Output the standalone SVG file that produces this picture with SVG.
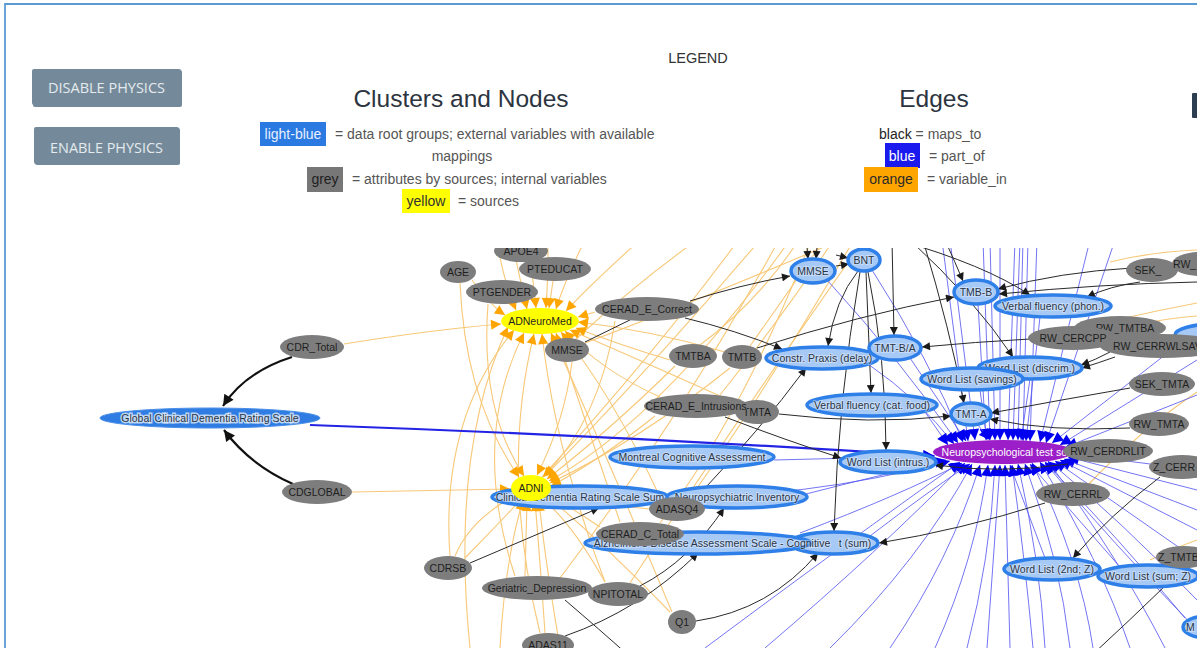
<svg xmlns="http://www.w3.org/2000/svg" width="1197" height="648" viewBox="0 0 1197 648">
<defs>
<style>
.btn rect{fill:#748a9a}
.btn text{font-family:"Open Sans","Liberation Sans",sans-serif;font-size:15px;fill:#e4eaee;text-anchor:middle}
.h{font-family:"Liberation Sans",Arial,sans-serif;font-size:24.5px;fill:#2c3440;text-anchor:middle}
.lg{font-family:"Liberation Sans",Arial,sans-serif;font-size:14px;fill:#555}
.mid{text-anchor:middle}
.ek{fill:none;stroke:#2a2a2a;stroke-width:1;marker-end:url(#ak)}
.ekn{fill:none;stroke:#2a2a2a;stroke-width:1}
.ek2{fill:none;stroke:#111;stroke-width:2.2;marker-end:url(#ak2)}
.eb{fill:none;stroke:#5c5cf2;stroke-width:1;stroke-opacity:.85;marker-end:url(#ab)}
.eb2{fill:none;stroke:#2323e6;stroke-width:2.2;marker-end:url(#ab)}
.eo{fill:none;stroke:#f8c877;stroke-width:1.1;marker-end:url(#ao)}
.eon{fill:none;stroke:#f8c877;stroke-width:1.1}
.nt{font-family:"Liberation Sans",Arial,sans-serif;font-size:10.5px;text-anchor:middle;fill:#1f1f1f}
.g ellipse{fill:#7d7d7d}
.lb ellipse{fill:#a7c9f6;stroke:#2e7fe8;stroke-width:3.5}
.lb text{fill:#2a3545;stroke:#fff;stroke-width:2;stroke-opacity:.35;paint-order:stroke}
.y ellipse{fill:#ffff00}
</style>
<marker id="ak" viewBox="0 0 10 10" refX="10" refY="5" markerWidth="10" markerHeight="8" markerUnits="userSpaceOnUse" orient="auto"><path d="M0,0 L10,5 L0,10 z" fill="#1a1a1a"/></marker>
<marker id="ak2" viewBox="0 0 10 10" refX="10" refY="5" markerWidth="13" markerHeight="11" markerUnits="userSpaceOnUse" orient="auto"><path d="M0,0 L10,5 L0,10 z" fill="#111"/></marker>
<marker id="ab" viewBox="0 0 10 10" refX="10" refY="5" markerWidth="13" markerHeight="11" markerUnits="userSpaceOnUse" orient="auto"><path d="M0,0 L10,5 L0,10 z" fill="#0000f0"/></marker>
<marker id="ao" viewBox="0 0 10 10" refX="10" refY="5" markerWidth="12" markerHeight="10" markerUnits="userSpaceOnUse" orient="auto"><path d="M0,0 L10,5 L0,10 z" fill="#ffa500"/></marker>
<clipPath id="gc"><rect x="5" y="248" width="1192" height="400"/></clipPath>
</defs>
<rect width="1197" height="648" fill="#ffffff"/>
<path d="M5,648 L5,4 L1197,4" fill="none" stroke="#5b9bd5" stroke-width="1.8"/>

<g id="btn-disable" class="btn"><rect x="33" y="70" width="149" height="37" rx="2" fill="#d8dde0"/><rect x="32" y="69" width="149" height="36" rx="2"/><text x="106.5" y="93" textLength="117" lengthAdjust="spacingAndGlyphs">DISABLE PHYSICS</text></g>
<g id="btn-enable" class="btn"><rect x="35" y="128" width="145" height="37" rx="2" fill="#d8dde0"/><rect x="34" y="127" width="145" height="37" rx="2"/><text x="106.5" y="152.5" textLength="113" lengthAdjust="spacingAndGlyphs">ENABLE PHYSICS</text></g>

<g id="legend">
<text x="698" y="63" class="lg mid" style="fill:#333;font-size:14.5px">LEGEND</text>
<text x="461" y="107" class="h">Clusters and Nodes</text>
<text x="934" y="107" class="h">Edges</text>
<rect x="260" y="122" width="66" height="24" fill="#2a7ae2"/>
<text x="293" y="139" class="lg mid" style="fill:#e8f0ff">light-blue</text>
<text x="335" y="139" class="lg">= data root groups; external variables with available</text>
<text x="462" y="161" class="lg mid">mappings</text>
<rect x="307" y="167" width="36" height="25" fill="#777"/>
<text x="325" y="184" class="lg mid" style="fill:#1e1e1e">grey</text>
<text x="352" y="184" class="lg">= attributes by sources; internal variables</text>
<rect x="402" y="189" width="48" height="24" fill="#ffff00"/>
<text x="426" y="206" class="lg mid" style="fill:#333">yellow</text>
<text x="458" y="206" class="lg">= sources</text>
<text x="879" y="139" class="lg"><tspan fill="#222">black</tspan> = maps_to</text>
<rect x="885" y="143" width="35" height="25" fill="#1a1aee"/>
<text x="902" y="161" class="lg mid" style="fill:#fff">blue</text>
<text x="929" y="161" class="lg">= part_of</text>
<rect x="864" y="167" width="54" height="25" fill="#ffa500"/>
<text x="891" y="184" class="lg mid" style="fill:#2a2a2a">orange</text>
<text x="927" y="184" class="lg">= variable_in</text>
<rect x="1192" y="93" width="6" height="25" rx="1" fill="#2c3e50"/>
</g>

<g clip-path="url(#gc)">
<g id="edges">
<g id="edges-orange">
<path class="eon" d="M585,343 Q700,300 845,238"/>
<path class="eon" d="M700,345 Q760,300 800,238"/>
<path class="eon" d="M750,346 Q790,290 825,238"/>
<path class="eon" d="M720,395 Q780,320 835,238"/>
<path class="eon" d="M690,498 Q760,400 855,238"/>
<path class="eon" d="M660,523 Q740,420 812,238"/>
<path class="eon" d="M560,578 Q680,420 780,238"/>
<path class="eon" d="M465,558 Q620,400 740,238"/>
<path class="eon" d="M630,583 Q730,430 865,238"/>
<path class="eon" d="M575,340 Q640,280 700,238"/>
<path class="eon" d="M1110,262 Q1150,252 1197,250"/>
<path class="eon" d="M1125,318 Q1160,310 1197,303"/>
<path class="eon" d="M1140,324 Q1170,318 1197,316"/>
<path class="eon" d="M1085,488 Q1140,430 1197,392"/>
<path class="eon" d="M1150,560 Q1175,548 1197,540"/>
<path class="eo" d="M497,240 Q503,280 516,310"/>
<path class="eo" d="M512,240 Q520,280 527,309"/>
<path class="eo" d="M528,240 Q533,280 536,308"/>
<path class="eo" d="M548,240 Q548,280 546,308"/>
<path class="eo" d="M585,240 Q565,280 556,309"/>
<path class="eo" d="M640,240 Q590,285 566,311"/>
<path class="eo" d="M472,280 Q490,305 505,315"/>
<path class="eo" d="M553,281 L549,308"/>
<path class="eo" d="M595,312 L578,317"/>
<path class="eo" d="M344,344 Q430,330 501,324"/>
<path class="eo" d="M450,556 Q440,420 514,330"/>
<path class="eo" d="M515,576 Q470,440 524,333"/>
<path class="eo" d="M540,633 Q500,470 534,334"/>
<path class="eo" d="M605,582 Q555,450 542,334"/>
<path class="eo" d="M672,612 Q600,440 551,333"/>
<path class="eo" d="M620,522 Q585,420 556,333"/>
<path class="eo" d="M660,497 Q610,390 561,332"/>
<path class="eo" d="M670,360 Q620,345 576,328"/>
<path class="eo" d="M660,397 Q600,370 565,331"/>
<path class="eo" d="M725,352 Q650,330 578,322"/>
<path class="eo" d="M470,648 Q450,450 508,327"/>
<path class="eo" d="M740,405 Q640,360 570,330"/>
<path class="eo" d="M352,492 L510,489"/>
<path class="eo" d="M460,283 Q465,400 519,477"/>
<path class="eo" d="M488,304 Q480,410 524,476"/>
<path class="eo" d="M572,362 Q565,420 537,475"/>
<path class="eo" d="M615,321 Q600,420 543,477"/>
<path class="eo" d="M675,366 Q610,430 547,479"/>
<path class="eo" d="M730,368 Q640,440 550,483"/>
<path class="eo" d="M655,416 Q600,460 551,486"/>
<path class="eo" d="M760,240 Q640,380 545,476"/>
<path class="eo" d="M790,240 Q660,420 549,481"/>
<path class="eo" d="M455,556 Q470,520 514,496"/>
<path class="eo" d="M525,576 L527,501"/>
<path class="eo" d="M545,633 Q540,560 535,501"/>
<path class="eo" d="M605,582 Q570,520 542,499"/>
<path class="eo" d="M670,612 Q600,540 547,496"/>
<path class="eo" d="M500,648 Q505,560 523,500"/>
<path class="eo" d="M560,648 Q545,560 539,501"/>
<path class="eo" d="M650,509 Q600,505 551,493"/>
<path class="eo" d="M600,527 Q575,510 549,495"/>
</g>
<g id="edges-blue">
<path class="eb" d="M942,240 L968,441"/>
<path class="eb" d="M950,240 L975,440"/>
<path class="eb" d="M983,240 L990,440"/>
<path class="eb" d="M990,240 L995,440"/>
<path class="eb" d="M1000,240 L1000,440"/>
<path class="eb" d="M1015,240 L1008,440"/>
<path class="eb" d="M1020,240 L1013,440"/>
<path class="eb" d="M1023,240 L1018,440"/>
<path class="eb" d="M1028,240 L1023,441"/>
<path class="eb" d="M1037,240 L1030,441"/>
<path class="eb" d="M1090,240 L1040,442"/>
<path class="eb" d="M1115,240 L1046,443"/>
<path class="eb" d="M828,281 Q900,360 958,443"/>
<path class="eb" d="M872,270 Q930,360 963,442"/>
<path class="eb" d="M978,304 L986,440"/>
<path class="eb" d="M1040,317 L1026,441"/>
<path class="eb" d="M910,358 L966,441"/>
<path class="eb" d="M868,364 Q920,400 954,444"/>
<path class="eb" d="M1030,379 L1021,440"/>
<path class="eb" d="M980,390 L987,440"/>
<path class="eb" d="M925,412 L948,445"/>
<path class="eb" d="M978,425 L990,440"/>
<path class="eb" d="M1197,330 L1052,443"/>
<path class="eb" d="M1197,360 L1060,445"/>
<path class="eb" d="M1197,395 L1066,447"/>
<path class="eb" d="M1197,470 L1072,454"/>
<path class="eb" d="M1197,490 L1068,457"/>
<path class="eb" d="M1197,510 L1064,459"/>
<path class="eb" d="M1197,530 L1060,460"/>
<path class="eb" d="M1197,560 L1055,461"/>
<path class="eb" d="M1197,600 Q1120,520 1050,462"/>
<path class="eb" d="M1197,630 Q1110,540 1045,463"/>
<path class="eb" d="M705,648 Q850,540 960,462"/>
<path class="eb" d="M765,648 Q880,550 965,463"/>
<path class="eb" d="M830,648 Q920,560 972,464"/>
<path class="eb" d="M890,648 Q950,560 980,465"/>
<path class="eb" d="M935,648 Q975,560 988,465"/>
<path class="eb" d="M967,648 Q990,560 995,465"/>
<path class="eb" d="M987,648 L1000,465"/>
<path class="eb" d="M1010,648 L1005,465"/>
<path class="eb" d="M1033,648 Q1025,560 1012,465"/>
<path class="eb" d="M1045,648 Q1040,560 1018,464"/>
<path class="eb" d="M1070,648 Q1060,560 1025,464"/>
<path class="eb" d="M1093,648 Q1080,560 1032,463"/>
<path class="eb" d="M1130,648 Q1100,560 1040,462"/>
<path class="eb" d="M1165,648 Q1120,560 1048,461"/>
<path class="eb" d="M1045,558 L1010,465"/>
<path class="eb" d="M1120,567 L1030,464"/>
<path class="eb" d="M1185,618 Q1120,540 1045,462"/>
<path class="eb" d="M870,536 Q930,490 970,464"/>
<path class="eb" d="M800,533 Q900,495 962,463"/>
<path class="eb" d="M806,494 Q880,475 946,460"/>
<path class="eb" d="M665,496 Q800,500 950,461"/>
<path class="eb" d="M774,460 L935,456"/>
<path class="eb2" d="M310,425 Q620,436 934,456"/>
</g>
<g id="edges-black">
<path class="ek" d="M690,301 Q740,285 790,276"/>
<path class="ek" d="M685,318 Q735,330 782,349"/>
<path class="ekn" d="M585,342 L640,315"/>
<path class="ek" d="M757,348 Q860,315 954,297"/>
<path class="ek" d="M858,271 Q835,300 828,346"/>
<path class="ek" d="M860,272 Q838,400 834,531"/>
<path class="ek" d="M866,272 L871,393"/>
<path class="ek" d="M868,272 Q886,360 886,450"/>
<path class="ek" d="M892,240 L894,335"/>
<path class="ek" d="M945,240 Q955,262 963,281"/>
<path class="ek" d="M1132,268 Q1060,272 998,289"/>
<path class="ek" d="M1197,282 Q1100,284 999,294"/>
<path class="ek" d="M898,240 Q985,265 1030,295"/>
<path class="ek" d="M1140,282 Q1110,286 1087,297"/>
<path class="ek" d="M1030,339 Q975,342 922,347"/>
<path class="ek" d="M910,240 Q975,300 1013,357"/>
<path class="ek" d="M1110,352 Q1095,360 1081,365"/>
<path class="ek" d="M1115,357 Q1098,363 1082,368"/>
<path class="ek" d="M923,240 Q950,330 964,403"/>
<path class="ek" d="M1130,388 Q1060,400 991,413"/>
<path class="ek" d="M1130,428 Q1050,432 990,419"/>
<path class="ek" d="M779,414 Q870,425 951,416"/>
<path class="ek" d="M725,417 Q785,440 841,458"/>
<path class="ek" d="M1068,464 Q1000,474 935,465"/>
<path class="ek" d="M1045,503 Q960,530 879,543"/>
<path class="ek" d="M1160,477 Q1110,515 1073,558"/>
<path class="ekn" d="M1165,586 Q1130,620 1092,655"/>
<path class="ek" d="M470,563 L599,508"/>
<path class="ek" d="M640,586 Q690,560 724,508"/>
<path class="ek" d="M565,636 Q640,610 698,553"/>
<path class="ek" d="M696,621 Q770,610 818,553"/>
<path class="ekn" d="M565,600 Q600,630 628,655"/>
<path class="ek" d="M695,499 Q760,430 806,368"/>
<path class="ek" d="M806,235 L808,259"/>
<path class="ek" d="M818,235 L816,259"/>
<path class="ek" d="M836,255 L848,258"/>
<path class="ek" d="M836,266 L849,264"/>
<path class="ek2" d="M292,357 Q245,372 223,406"/>
<path class="ek2" d="M293,484 Q250,465 224,430"/>
</g>
</g>

<g id="nodes">
<g id="n-global-cdr"><ellipse cx="210" cy="418" rx="110" ry="10" fill="#2f7ce2" stroke="#4a8fe9" stroke-width="1"/><text x="210" y="421.7" class="nt" style="fill:#2a3545;stroke:#e8f0fb;stroke-width:3;stroke-opacity:.75;paint-order:stroke">Global Clinical Dementia Rating Scale</text></g>
<g id="n-cdr-total" class="g"><ellipse cx="312" cy="347" rx="32" ry="12"/><text x="312" y="350.7" class="nt">CDR_Total</text></g>
<g id="n-cdglobal" class="g"><ellipse cx="317" cy="492" rx="35" ry="12"/><text x="317" y="495.7" class="nt">CDGLOBAL</text></g>
<g id="n-age" class="g"><ellipse cx="458" cy="272" rx="18" ry="11"/><text x="458" y="275.7" class="nt">AGE</text></g>
<g id="n-apoe4" class="g"><ellipse cx="521" cy="251" rx="27" ry="11"/><text x="521" y="254.7" class="nt">APOE4</text></g>
<g id="n-pteducat" class="g"><ellipse cx="555" cy="269" rx="36" ry="12"/><text x="555" y="272.7" class="nt">PTEDUCAT</text></g>
<g id="n-ptgender" class="g"><ellipse cx="502" cy="292" rx="36" ry="12"/><text x="502" y="295.7" class="nt">PTGENDER</text></g>
<g id="n-adneuromed" class="y"><ellipse cx="540" cy="321" rx="39" ry="13"/><text x="540" y="324.7" class="nt">ADNeuroMed</text></g>
<g id="n-mmse-g" class="g"><ellipse cx="567" cy="350" rx="22" ry="12"/><text x="567" y="353.7" class="nt">MMSE</text></g>
<g id="n-cerad-e-correct" class="g"><ellipse cx="647" cy="309" rx="52" ry="12"/><text x="647" y="312.7" class="nt">CERAD_E_Correct</text></g>
<g id="n-tmtba" class="g"><ellipse cx="693" cy="356" rx="24" ry="12"/><text x="693" y="359.7" class="nt">TMTBA</text></g>
<g id="n-tmtb" class="g"><ellipse cx="742" cy="357" rx="20" ry="12"/><text x="742" y="360.7" class="nt">TMTB</text></g>
<g id="n-tmta" class="g"><ellipse cx="757" cy="412" rx="22" ry="12"/><text x="757" y="415.7" class="nt">TMTA</text></g>
<g id="n-cerad-e-intrusions" class="g"><ellipse cx="696" cy="406" rx="52" ry="12"/><text x="696" y="409.7" class="nt">CERAD_E_Intrusions</text></g>
<g id="n-mmse-b" class="lb"><ellipse cx="813" cy="271" rx="22" ry="12"/><text x="813" y="274.7" class="nt">MMSE</text></g>
<g id="n-bnt" class="lb"><ellipse cx="864" cy="260" rx="16" ry="11"/><text x="864" y="263.7" class="nt">BNT</text></g>
<g id="n-tmb-b" class="lb"><ellipse cx="976" cy="292" rx="22" ry="12"/><text x="976" y="295.7" class="nt">TMB-B</text></g>
<g id="n-vf-phon" class="lb"><ellipse cx="1053" cy="306" rx="58" ry="11"/><text x="1053" y="309.7" class="nt">Verbal fluency (phon.)</text></g>
<g id="n-constr" class="lb"><ellipse cx="822" cy="358" rx="56" ry="11"/><text x="822" y="361.7" class="nt">Constr. Praxis (delay)</text></g>
<g id="n-tmt-ba" class="lb"><ellipse cx="895" cy="348" rx="26" ry="12"/><text x="895" y="351.7" class="nt">TMT-B/A</text></g>
<g id="n-wl-discrim" class="lb"><ellipse cx="1030" cy="368" rx="52" ry="11"/><text x="1030" y="371.7" class="nt">Word List (discrim.)</text></g>
<g id="n-wl-savings" class="lb"><ellipse cx="972" cy="379" rx="51" ry="11"/><text x="972" y="382.7" class="nt">Word List (savings)</text></g>
<g id="n-vf-cat" class="lb"><ellipse cx="872" cy="405" rx="65" ry="11"/><text x="872" y="408.7" class="nt">Verbal fluency (cat. food)</text></g>
<g id="n-tmt-a" class="lb"><ellipse cx="971" cy="414" rx="20" ry="11"/><text x="971" y="417.7" class="nt">TMT-A</text></g>
<g id="n-neuro"><ellipse cx="1003" cy="452" rx="70" ry="12" fill="#9c1ec8"/><text x="1004" y="455.7" class="nt" style="fill:#fff">Neuropsychological test sc</text></g>
<g id="n-wl-intrus" class="lb"><ellipse cx="888" cy="462" rx="48" ry="11"/><text x="888" y="465.7" class="nt">Word List (intrus.)</text></g>
<g id="n-montreal" class="lb"><ellipse cx="692" cy="457" rx="82" ry="11"/><text x="692" y="460.7" class="nt">Montreal Cognitive Assessment</text></g>
<g id="n-cdr-sum" class="lb"><ellipse cx="580" cy="497" rx="88" ry="11"/><text x="580" y="500.7" class="nt">Clinical Dementia Rating Scale Sum</text></g>
<g id="n-adni" class="y"><ellipse cx="531" cy="488" rx="20" ry="13"/><text x="531" y="491.7" class="nt">ADNI</text></g>
<g id="n-npi" class="lb"><ellipse cx="737" cy="497" rx="70" ry="11"/><text x="737" y="500.7" class="nt">Neuropsychiatric Inventory</text></g>
<g id="n-adasq4" class="g"><ellipse cx="677" cy="509" rx="28" ry="12"/><text x="677" y="512.7" class="nt">ADASQ4</text></g>
<g id="n-sum" class="lb"><ellipse cx="834" cy="543" rx="44" ry="11"/><text x="855" y="546.7" class="nt">t (sum)</text></g>
<g id="n-adas-cog" class="lb"><ellipse cx="698" cy="543" rx="113" ry="11"/><text x="712" y="546.7" class="nt">Alzheimer's Disease Assessment Scale - Cognitive</text></g>
<g id="n-cerad-c-total" class="g"><ellipse cx="640" cy="534" rx="44" ry="12"/><text x="640" y="537.7" class="nt">CERAD_C_Total</text></g>
<g id="n-cdrsb" class="g"><ellipse cx="448" cy="568" rx="24" ry="12"/><text x="448" y="571.7" class="nt">CDRSB</text></g>
<g id="n-npitotal" class="g"><ellipse cx="618" cy="594" rx="30" ry="12"/><text x="618" y="597.7" class="nt">NPITOTAL</text></g>
<g id="n-geriatric" class="g"><ellipse cx="537" cy="588" rx="55" ry="12"/><text x="537" y="591.7" class="nt">Geriatric_Depression</text></g>
<g id="n-q1" class="g"><ellipse cx="682" cy="622" rx="14" ry="12"/><text x="682" y="625.7" class="nt">Q1</text></g>
<g id="n-adas11" class="g"><ellipse cx="548" cy="645" rx="26" ry="12"/><text x="548" y="648.7" class="nt">ADAS11</text></g>
<g id="n-rblue" class="lb"><ellipse cx="1215" cy="335" rx="40" ry="11"/></g>
<g id="n-sek" class="g"><ellipse cx="1152" cy="270" rx="26" ry="12"/><text x="1148" y="273.7" class="nt">SEK_</text></g>
<g id="n-rw" class="g"><ellipse cx="1200" cy="264" rx="28" ry="12"/><text x="1173" y="267.7" class="nt" style="text-anchor:start">RW_</text></g>
<g id="n-rw-tmtba" class="g"><ellipse cx="1120" cy="328" rx="46" ry="12"/><text x="1125" y="331.7" class="nt">RW_TMTBA</text></g>
<g id="n-rw-cercpp" class="g"><ellipse cx="1073" cy="338" rx="45" ry="12"/><text x="1073" y="341.7" class="nt">RW_CERCPP</text></g>
<g id="n-rw-cerrwlsav" class="g"><ellipse cx="1162" cy="346" rx="62" ry="12"/><text x="1113" y="349.7" class="nt" style="text-anchor:start">RW_CERRWLSAV</text></g>
<g id="n-sek-tmta" class="g"><ellipse cx="1162" cy="384" rx="33" ry="12"/><text x="1162" y="387.7" class="nt">SEK_TMTA</text></g>
<g id="n-rw-tmta" class="g"><ellipse cx="1159" cy="424" rx="30" ry="12"/><text x="1159" y="427.7" class="nt">RW_TMTA</text></g>
<g id="n-rw-cerdrlit" class="g"><ellipse cx="1108" cy="451" rx="45" ry="12"/><text x="1108" y="454.7" class="nt">RW_CERDRLIT</text></g>
<g id="n-z-cerr" class="g"><ellipse cx="1182" cy="467" rx="33" ry="12"/><text x="1153" y="470.7" class="nt" style="text-anchor:start">Z_CERR</text></g>
<g id="n-rw-cerrl" class="g"><ellipse cx="1073" cy="494" rx="37" ry="12"/><text x="1073" y="497.7" class="nt">RW_CERRL</text></g>
<g id="n-wl-2nd" class="lb"><ellipse cx="1052" cy="569" rx="48" ry="11"/><text x="1052" y="572.7" class="nt">Word List (2nd; Z)</text></g>
<g id="n-wl-sumz" class="lb"><ellipse cx="1148" cy="576" rx="50" ry="11"/><text x="1148" y="579.7" class="nt">Word List (sum; Z)</text></g>
<g id="n-z-tmtb" class="g"><ellipse cx="1184" cy="557" rx="28" ry="11"/><text x="1158" y="560.7" class="nt" style="text-anchor:start">Z_TMTB</text></g>
<g id="n-m" class="lb"><ellipse cx="1207" cy="627" rx="24" ry="11"/><text x="1186" y="630.7" class="nt" style="text-anchor:start">M</text></g>
<g id="n-bblue" class="lb"><ellipse cx="1165" cy="661" rx="50" ry="11"/></g>
</g>
</g>
</svg>
